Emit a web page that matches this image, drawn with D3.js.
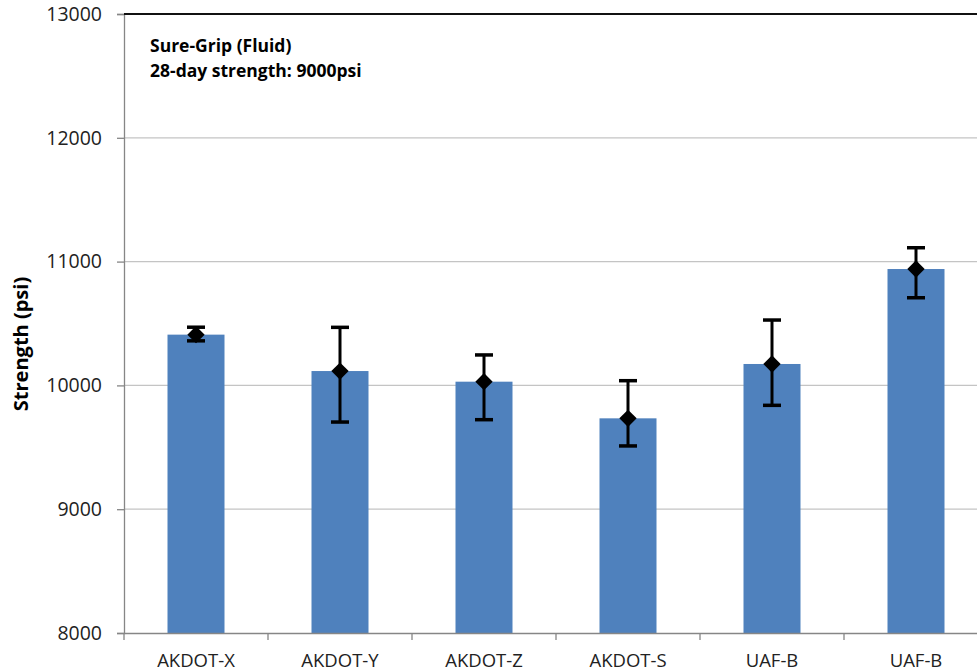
<!DOCTYPE html>
<html><head><meta charset="utf-8">
<script src="https://cdn.jsdelivr.net/npm/d3@7"></script>
<style>body{margin:0;background:#fff}svg{display:block}</style>
</head><body>
<svg id="c" width="977" height="672"></svg>
<script>
const categories = ["AKDOT-X","AKDOT-Y","AKDOT-Z","AKDOT-S","UAF-B","UAF-B"];
const means = [10410, 10116, 10030, 9734, 10173, 10940];
const upper = [10470, 10469, 10246, 10038, 10528, 11112];
const lower = [10360, 9704, 9723, 9511, 9839, 10708];
const yTicks = [8000, 9000, 10000, 11000, 12000, 13000];
const titleLines = ["Sure-Grip (Fluid)", "28-day strength: 9000psi"];
const yLabel = "Strength (psi)";

const svg = d3.select("#c");
const L = 124, R = 988, T = 14, B = 633;
const font = "'Open Sans', Calibri, sans-serif";
const x = d3.scaleBand().domain(d3.range(categories.length)).range([L, R]).paddingInner(0).paddingOuter(0);
const y = d3.scaleLinear().domain([8000, 13000]).range([B, T]);

// gridlines
svg.append("g").selectAll("line").data(yTicks.slice(1, -1)).join("line")
  .attr("x1", L).attr("x2", R).attr("y1", d => y(d)).attr("y2", d => y(d))
  .attr("stroke", "#c4c4c4").attr("stroke-width", 1.3);

// bars
const bw = 57;
svg.append("g").selectAll("rect").data(means).join("rect")
  .attr("x", (d, i) => x(i) + x.bandwidth() / 2 - bw / 2)
  .attr("width", bw)
  .attr("y", d => y(d))
  .attr("height", d => B - y(d))
  .attr("fill", "#4f81bd");

// y axis
const yAxis = svg.append("g").attr("transform", `translate(${L},0)`)
  .call(d3.axisLeft(y).tickValues(yTicks).tickSize(7).tickPadding(15).tickFormat(d3.format("d")));
yAxis.select(".domain").attr("stroke", "#868686").attr("stroke-width", 1.3);
yAxis.selectAll(".tick line").attr("stroke", "#868686").attr("stroke-width", 1.3);
yAxis.selectAll("text").attr("font-family", font).attr("font-size", 19.5).attr("fill", "#222");

// x axis
const xAxis = svg.append("g").attr("transform", `translate(0,${B})`)
  .call(d3.axisBottom(x).tickSize(0).tickPadding(21).tickFormat(i => categories[i]));
xAxis.select(".domain").attr("stroke", "#868686").attr("stroke-width", 1.3);
xAxis.selectAll("text").attr("font-family", font).attr("font-size", 18.5).attr("fill", "#222");
svg.append("g").selectAll("line").data(d3.range(categories.length + 1)).join("line")
  .attr("x1", i => L + i * x.bandwidth()).attr("x2", i => L + i * x.bandwidth())
  .attr("y1", B).attr("y2", B + 7).attr("stroke", "#868686").attr("stroke-width", 1.3);

// top border
svg.append("line").attr("x1", L).attr("x2", R).attr("y1", y(13000)).attr("y2", y(13000))
  .attr("stroke", "#111").attr("stroke-width", 2);

// error bars
const eg = svg.append("g");
const cx = i => x(i) + x.bandwidth() / 2;
means.forEach((m, i) => {
  eg.append("line").attr("x1", cx(i)).attr("x2", cx(i)).attr("y1", y(upper[i])).attr("y2", y(lower[i]))
    .attr("stroke", "#000").attr("stroke-width", 3);
  [upper[i], lower[i]].forEach(v => {
    eg.append("line").attr("x1", cx(i) - 9).attr("x2", cx(i) + 9).attr("y1", y(v)).attr("y2", y(v))
      .attr("stroke", "#000").attr("stroke-width", 3.5);
  });
  eg.append("path")
    .attr("d", d3.symbol().type(d3.symbolSquare).size(150)())
    .attr("transform", `translate(${cx(i)},${y(m)}) rotate(45)`)
    .attr("fill", "#000");
});

// title
svg.append("g").selectAll("text").data(titleLines).join("text")
  .attr("x", 150).attr("y", (d, i) => 52 + i * 25)
  .attr("font-family", font).attr("font-weight", "bold").attr("font-size", 17.5).attr("fill", "#000")
  .text(d => d);

// y label
svg.append("text").attr("transform", `translate(28,344) rotate(-90)`)
  .attr("text-anchor", "middle")
  .attr("font-family", font).attr("font-weight", "bold").attr("font-size", 20).attr("fill", "#000")
  .text(yLabel);
</script>
</body></html>
